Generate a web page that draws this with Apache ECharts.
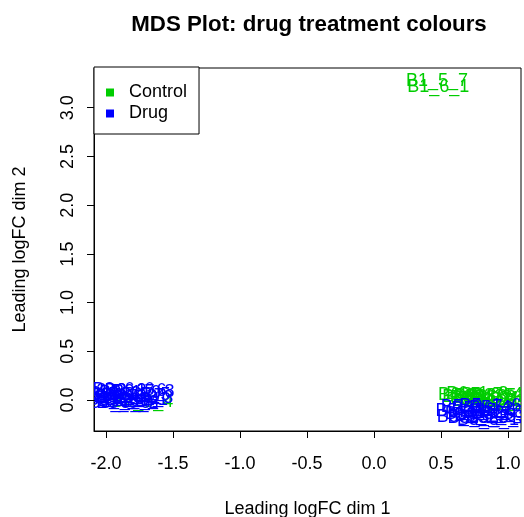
<!DOCTYPE html>
<html>
<head>
<meta charset="utf-8">
<script src="https://cdn.jsdelivr.net/npm/echarts@6/dist/echarts.min.js"></script>
<style>html,body{margin:0;padding:0;background:#fff}#c{width:524px;height:517px}</style>
</head>
<body>
<div id="c"></div>
<script>
// ---- data ----
const sampleNames = [
  "B1_5_7","B1_6_1",
  "B2_3_4",
  "B6_5_6","B6_2_3","B6_1_8","B6_4_2","B6_3_5","B6_6_1","B6_7_4","B6_8_2","B6_2_7","B6_5_1","B6_3_9","B6_4_6","B6_1_3",
  "B3_1_2","B3_2_5","B3_3_1","B3_4_8","B3_5_3","B3_6_6","B3_7_2","B3_8_4","B3_1_9","B3_2_7","B3_3_6","B3_4_1","B3_5_5","B3_6_3","B3_7_8","B3_8_6","B3_9_2",
  "B5_1_4","B5_2_2","B5_3_7","B5_4_5","B5_5_9","B5_6_2","B5_7_3","B5_8_1","B5_1_6","B5_2_8","B5_3_3","B5_4_4","B5_5_2","B5_6_7"
];
const dim1 = [
  0.47, 0.48,
  -1.73,
  0.71, 0.74, 0.77, 0.80, 0.83, 0.86, 0.88, 0.91, 0.94, 0.96, 0.98, 0.82, 0.90,
  -1.97, -1.95, -1.93, -1.91, -1.89, -1.87, -1.85, -1.83, -1.82, -1.80, -1.78, -1.77, -1.75, -1.73, -1.72, -1.90, -1.84,
  0.69, 0.70, 0.73, 0.76, 0.78, 0.81, 0.83, 0.85, 0.87, 0.89, 0.92, 0.94, 0.96, 0.98
];
const dim2 = [
  3.27, 3.21,
  -0.02,
  0.05, 0.03, 0.06, 0.02, 0.04, 0.01, 0.05, 0.03, 0.00, 0.04, 0.02, -0.01, -0.02,
  0.06, 0.02, 0.09, 0.00, 0.05, 0.10, 0.03, -0.01, 0.07, 0.04, 0.09, 0.00, 0.05, 0.02, 0.08, -0.03, -0.03,
  -0.11, -0.17, -0.07, -0.14, -0.19, -0.09, -0.16, -0.21, -0.06, -0.13, -0.18, -0.08, -0.14, -0.11
];
const treatment = [
  "Control","Control",
  "Control",
  "Control","Control","Control","Control","Control","Control","Control","Control","Control","Control","Control","Control","Control",
  "Drug","Drug","Drug","Drug","Drug","Drug","Drug","Drug","Drug","Drug","Drug","Drug","Drug","Drug","Drug","Drug","Drug",
  "Drug","Drug","Drug","Drug","Drug","Drug","Drug","Drug","Drug","Drug","Drug","Drug","Drug","Drug"
];
const groups = ["Control","Drug"];
const groupColors = ["#00CD00","#0000FF"];
const xTicks = [-2.0,-1.5,-1.0,-0.5,0.0,0.5,1.0];
const yTicks = [0.0,0.5,1.0,1.5,2.0,2.5,3.0];
const xRange = [-2.09, 1.097];
const yRange = [-0.318, 3.408];

const FONT = '"Liberation Sans", Arial, Helvetica, sans-serif';

const series = groups.map((g, gi) => ({
  name: g,
  type: 'custom',
  clip: true,
  itemStyle: {color: groupColors[gi]},
  data: sampleNames.map((n, i) => ({value:[dim1[i], dim2[i]], name:n, g: treatment[i]}))
          .filter(d => d.g === g).map(d => ({value:d.value, name:d.name})),
  renderItem: function (params, api) {
    const p = api.coord([api.value(0), api.value(1)]);
    const d = series[gi].data[params.dataIndex];
    return {
      type: 'text', x: p[0], y: p[1],
      style: {text: d.name, fill: groupColors[gi], fontSize: 18, fontFamily: FONT, align: 'center', verticalAlign: 'middle'}
    };
  }
}));

const chart = echarts.init(document.getElementById('c'), null, {renderer: 'canvas'});
chart.setOption({
  animation: false,
  backgroundColor: '#ffffff',
  title: {
    text: 'MDS Plot: drug treatment colours',
    left: 304, top: 9, textAlign: 'center',
    textStyle: {fontSize: 22.3, fontWeight: 'bold', fontFamily: FONT, color: '#000'}
  },
  legend: {
    orient: 'vertical', left: 94, top: 67,
    data: groups,
    icon: 'rect', itemWidth: 8, itemHeight: 8, itemGap: 2,
    padding: [16, 12, 11, 12],
    borderColor: '#000', borderWidth: 1, backgroundColor: '#fff',
    formatter: n => '{t|' + n + '}',
    textStyle: {fontSize: 18, fontFamily: FONT, color: '#000', lineHeight: 19,
      rich: {t: {fontSize: 18, fontFamily: FONT, color: '#000', lineHeight: 19, padding: [0, 0, 0, 10]}}}
  },
  grid: {left: 94, right: 3, top: 68, bottom: 86, show: true, borderColor: '#000', borderWidth: 1,
    backgroundColor: 'transparent', containLabel: false, outerBoundsMode: 'none'},
  xAxis: {
    type: 'value', min: xRange[0], max: xRange[1],
    name: 'Leading logFC dim 1', nameLocation: 'middle', nameGap: 69,
    nameTextStyle: {fontSize: 18, fontFamily: FONT, color: '#000'},
    splitLine: {show: false},
    axisLine: {show: true, onZero: false, lineStyle: {color: '#000', width: 1}},
    axisTick: {show: true, inside: false, length: 7, lineStyle: {color: '#000', width: 1}, customValues: xTicks},
    axisLabel: {margin: 24, fontSize: 18, fontFamily: FONT, color: '#000', customValues: xTicks, formatter: v => v.toFixed(1), showMinLabel: true, showMaxLabel: true}
  },
  yAxis: {
    type: 'value', min: yRange[0], max: yRange[1],
    name: 'Leading logFC dim 2', nameLocation: 'middle', nameGap: 65, nameRotate: 90,
    nameTextStyle: {fontSize: 18, fontFamily: FONT, color: '#000'},
    splitLine: {show: false},
    axisLine: {show: true, onZero: false, lineStyle: {color: '#000', width: 1}},
    axisTick: {show: true, inside: false, length: 7, lineStyle: {color: '#000', width: 1}, customValues: yTicks},
    axisLabel: {margin: 17, rotate: 90, fontSize: 18, fontFamily: FONT, color: '#000', customValues: yTicks, formatter: v => v.toFixed(1)}
  },
  series: series
});
</script>
</body>
</html>
